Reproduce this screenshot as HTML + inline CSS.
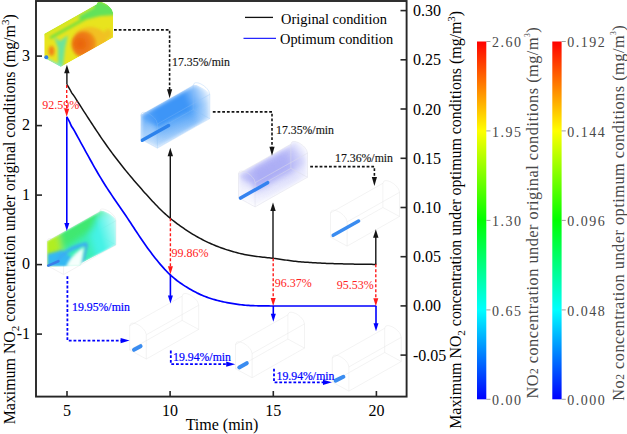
<!DOCTYPE html>
<html><head><meta charset="utf-8"><style>
html,body{margin:0;padding:0;background:#fff;width:627px;height:434px;overflow:hidden}
svg{display:block}
text{font-family:"Liberation Serif",serif}
</style></head><body>
<svg width="627" height="434" viewBox="0 0 627 434">
<defs><filter id="b1" x="-50%" y="-50%" width="200%" height="200%"><feGaussianBlur stdDeviation="1"/></filter><filter id="b15" x="-50%" y="-50%" width="200%" height="200%"><feGaussianBlur stdDeviation="1.5"/></filter><filter id="b2" x="-50%" y="-50%" width="200%" height="200%"><feGaussianBlur stdDeviation="2"/></filter><filter id="b3" x="-50%" y="-50%" width="200%" height="200%"><feGaussianBlur stdDeviation="3"/></filter><filter id="b12" x="-50%" y="-50%" width="200%" height="200%"><feGaussianBlur stdDeviation="1.2"/></filter><filter id="b05" x="-50%" y="-50%" width="200%" height="200%"><feGaussianBlur stdDeviation="0.6"/></filter><radialGradient id="og1" cx="0.35" cy="0.5" r="0.75"><stop offset="0" stop-color="#e8600e"/><stop offset="0.55" stop-color="#ee7c14"/><stop offset="1" stop-color="#f2a81a"/></radialGradient><linearGradient id="cbar" x1="0" y1="0" x2="0" y2="1"><stop offset="0" stop-color="#ff0000"/><stop offset="0.25" stop-color="#ffff00"/><stop offset="0.5" stop-color="#00ff00"/><stop offset="0.75" stop-color="#00ffff"/><stop offset="1" stop-color="#0000ff"/></linearGradient><clipPath id="c1"><polygon points="44.2,33.8 96.6,4.2 97.6,2.1 98.7,1.7 99.7,1.6 100.8,1.7 101.8,1.9 102.8,2.2 103.9,2.7 104.9,3.2 105.9,3.8 107.0,4.5 108.0,5.3 109.0,6.2 110.1,7.2 111.1,8.4 112.2,10.0 113.2,13.2 113.2,37.4 60.8,67.0 44.2,58.0"/></clipPath><mask id="m1"><polygon points="44.2,33.8 96.6,4.2 97.6,2.1 98.7,1.7 99.7,1.6 100.8,1.7 101.8,1.9 102.8,2.2 103.9,2.7 104.9,3.2 105.9,3.8 107.0,4.5 108.0,5.3 109.0,6.2 110.1,7.2 111.1,8.4 112.2,10.0 113.2,13.2 113.2,37.4 60.8,67.0 44.2,58.0" fill="#fff" filter="url(#b05)"/></mask><linearGradient id="mg2" gradientUnits="userSpaceOnUse" x1="140.8" y1="115.0" x2="209.8" y2="85.4"><stop offset="0.00" stop-color="#fff" stop-opacity="0.80"/><stop offset="0.20" stop-color="#fff" stop-opacity="1.00"/><stop offset="0.62" stop-color="#fff" stop-opacity="1.00"/><stop offset="0.80" stop-color="#fff" stop-opacity="0.55"/><stop offset="0.92" stop-color="#fff" stop-opacity="0.20"/><stop offset="1.00" stop-color="#fff" stop-opacity="0.03"/></linearGradient><clipPath id="cp2"><polygon points="140.8,115.0 193.2,85.4 194.2,84.8 195.3,84.9 196.3,85.1 197.4,85.5 198.4,85.9 199.4,86.4 200.5,86.9 201.5,87.4 202.5,88.0 203.6,88.6 204.6,89.3 205.7,90.0 206.7,90.8 207.7,91.6 208.8,92.6 209.8,94.4 209.8,118.6 157.4,148.2 140.8,139.2"/></clipPath><mask id="m2"><polygon points="140.8,115.0 193.2,85.4 194.2,84.8 195.3,84.9 196.3,85.1 197.4,85.5 198.4,85.9 199.4,86.4 200.5,86.9 201.5,87.4 202.5,88.0 203.6,88.6 204.6,89.3 205.7,90.0 206.7,90.8 207.7,91.6 208.8,92.6 209.8,94.4 209.8,118.6 157.4,148.2 140.8,139.2" fill="url(#mg2)" filter="url(#b2)"/></mask><linearGradient id="sg2" gradientUnits="userSpaceOnUse" x1="153.4" y1="120.0" x2="163.4" y2="151.2"><stop offset="0" stop-color="#3f98f7" stop-opacity="1.00"/><stop offset="1" stop-color="#3f98f7" stop-opacity="0.25"/></linearGradient><linearGradient id="mg3" gradientUnits="userSpaceOnUse" x1="238.5" y1="173.7" x2="307.5" y2="144.1"><stop offset="0.00" stop-color="#fff" stop-opacity="0.70"/><stop offset="0.25" stop-color="#fff" stop-opacity="1.00"/><stop offset="0.65" stop-color="#fff" stop-opacity="0.95"/><stop offset="0.85" stop-color="#fff" stop-opacity="0.50"/><stop offset="1.00" stop-color="#fff" stop-opacity="0.10"/></linearGradient><clipPath id="cp3"><polygon points="238.5,173.7 290.9,144.1 291.9,142.0 293.0,141.6 294.0,141.5 295.0,141.6 296.1,141.8 297.1,142.1 298.2,142.6 299.2,143.1 300.2,143.7 301.3,144.4 302.3,145.2 303.4,146.1 304.4,147.1 305.4,148.3 306.5,149.9 307.5,153.1 307.5,177.3 255.1,206.9 238.5,197.9"/></clipPath><mask id="m3"><polygon points="238.5,173.7 290.9,144.1 291.9,142.0 293.0,141.6 294.0,141.5 295.0,141.6 296.1,141.8 297.1,142.1 298.2,142.6 299.2,143.1 300.2,143.7 301.3,144.4 302.3,145.2 303.4,146.1 304.4,147.1 305.4,148.3 306.5,149.9 307.5,153.1 307.5,177.3 255.1,206.9 238.5,197.9" fill="url(#mg3)" filter="url(#b2)"/></mask><linearGradient id="sg3" gradientUnits="userSpaceOnUse" x1="251.1" y1="178.7" x2="261.1" y2="209.9"><stop offset="0" stop-color="#b6b8f7" stop-opacity="0.70"/><stop offset="1" stop-color="#b6b8f7" stop-opacity="0.00"/></linearGradient><clipPath id="c5"><polygon points="47.0,241.3 99.4,211.7 100.4,210.6 101.5,210.5 102.5,210.7 103.6,210.9 104.6,211.3 105.6,211.7 106.7,212.2 107.7,212.7 108.7,213.3 109.8,213.9 110.8,214.6 111.8,215.4 112.9,216.3 113.9,217.3 115.0,218.4 116.0,220.7 116.0,244.9 82.0,263.0 80.0,266.0 64.0,266.5 47.0,266.5"/></clipPath><linearGradient id="mg5" gradientUnits="userSpaceOnUse" x1="47" y1="250" x2="117" y2="230"><stop offset="0" stop-color="#fff"/><stop offset="0.75" stop-color="#fff"/><stop offset="1" stop-color="#fff" stop-opacity="0.4"/></linearGradient><mask id="m5"><polygon points="47.0,241.3 99.4,211.7 100.4,210.6 101.5,210.5 102.5,210.7 103.6,210.9 104.6,211.3 105.6,211.7 106.7,212.2 107.7,212.7 108.7,213.3 109.8,213.9 110.8,214.6 111.8,215.4 112.9,216.3 113.9,217.3 115.0,218.4 116.0,220.7 116.0,244.9 82.0,263.0 80.0,266.0 64.0,266.5 47.0,266.5" fill="url(#mg5)" filter="url(#b12)"/></mask></defs>
<path d="M330.5,212.9L331.5,210.8L332.6,210.3L333.6,210.2L334.6,210.3L335.7,210.5L336.7,210.9L337.8,211.3L338.8,211.8L339.8,212.4L340.9,213.1L341.9,213.9L343.0,214.8L344.0,215.8L345.0,217.1L346.1,218.6L347.1,221.9M347.1,221.9L347.1,246.1M347.1,246.1L330.5,237.1M330.5,237.1L330.5,212.9M382.9,183.3L383.9,181.2L385.0,180.7L386.0,180.6L387.0,180.7L388.1,180.9L389.1,181.3L390.2,181.7L391.2,182.2L392.2,182.8L393.3,183.5L394.3,184.3L395.4,185.2L396.4,186.2L397.4,187.5L398.5,189.0L399.5,192.3M399.5,192.3L399.5,216.5M399.5,216.5L382.9,207.5M382.9,207.5L382.9,183.3M330.5,212.9L382.9,183.3M347.1,221.9L399.5,192.3M347.1,246.1L399.5,216.5M330.5,237.1L382.9,207.5" stroke="#e4e4e4" stroke-width="0.45" fill="none"/>
<path d="M129.7,325.8L130.7,323.7L131.8,323.2L132.8,323.1L133.8,323.2L134.9,323.4L135.9,323.8L137.0,324.2L138.0,324.7L139.0,325.3L140.1,326.0L141.1,326.8L142.1,327.7L143.2,328.7L144.2,330.0L145.3,331.5L146.3,334.8M146.3,334.8L146.3,359.0M146.3,359.0L129.7,350.0M129.7,350.0L129.7,325.8M182.1,296.2L183.1,294.1L184.2,293.6L185.2,293.5L186.2,293.6L187.3,293.8L188.3,294.2L189.4,294.6L190.4,295.1L191.4,295.7L192.5,296.4L193.5,297.2L194.5,298.1L195.6,299.1L196.6,300.4L197.7,301.9L198.7,305.2M198.7,305.2L198.7,329.4M198.7,329.4L182.1,320.4M182.1,320.4L182.1,296.2M129.7,325.8L182.1,296.2M146.3,334.8L198.7,305.2M146.3,359.0L198.7,329.4M129.7,350.0L182.1,320.4" stroke="#e4e4e4" stroke-width="0.45" fill="none"/>
<path d="M235.5,344.5L236.5,342.4L237.6,341.9L238.6,341.8L239.7,341.9L240.7,342.1L241.7,342.5L242.8,342.9L243.8,343.4L244.8,344.0L245.9,344.7L246.9,345.5L247.9,346.4L249.0,347.4L250.0,348.7L251.1,350.2L252.1,353.5M252.1,353.5L252.1,377.7M252.1,377.7L235.5,368.7M235.5,368.7L235.5,344.5M287.9,314.9L288.9,312.8L290.0,312.3L291.0,312.2L292.0,312.3L293.1,312.5L294.1,312.9L295.2,313.3L296.2,313.8L297.2,314.4L298.3,315.1L299.3,315.9L300.4,316.8L301.4,317.8L302.4,319.1L303.5,320.6L304.5,323.9M304.5,323.9L304.5,348.1M304.5,348.1L287.9,339.1M287.9,339.1L287.9,314.9M235.5,344.5L287.9,314.9M252.1,353.5L304.5,323.9M252.1,377.7L304.5,348.1M235.5,368.7L287.9,339.1" stroke="#e4e4e4" stroke-width="0.45" fill="none"/>
<path d="M332.3,357.9L333.3,355.8L334.4,355.3L335.4,355.2L336.5,355.3L337.5,355.5L338.5,355.9L339.6,356.3L340.6,356.8L341.6,357.4L342.7,358.1L343.7,358.9L344.8,359.8L345.8,360.8L346.8,362.1L347.9,363.6L348.9,366.9M348.9,366.9L348.9,391.1M348.9,391.1L332.3,382.1M332.3,382.1L332.3,357.9M384.7,328.3L385.7,326.2L386.8,325.7L387.8,325.6L388.9,325.7L389.9,325.9L390.9,326.3L392.0,326.7L393.0,327.2L394.0,327.8L395.1,328.5L396.1,329.3L397.1,330.2L398.2,331.2L399.2,332.5L400.3,334.0L401.3,337.3M401.3,337.3L401.3,361.5M401.3,361.5L384.7,352.5M384.7,352.5L384.7,328.3M332.3,357.9L384.7,328.3M348.9,366.9L401.3,337.3M348.9,391.1L401.3,361.5M332.3,382.1L384.7,352.5" stroke="#e4e4e4" stroke-width="0.45" fill="none"/>
<path d="M47.0,241.3L48.0,239.2L49.1,238.7L50.1,238.6L51.1,238.7L52.2,238.9L53.2,239.3L54.3,239.7L55.3,240.2L56.3,240.8L57.4,241.5L58.4,242.3L59.5,243.2L60.5,244.2L61.5,245.5L62.6,247.0L63.6,250.3M63.6,250.3L63.6,274.5M63.6,274.5L47.0,265.5M47.0,265.5L47.0,241.3M99.4,211.7L100.4,209.6L101.5,209.1L102.5,209.0L103.6,209.1L104.6,209.3L105.6,209.7L106.7,210.1L107.7,210.6L108.7,211.2L109.8,211.9L110.8,212.7L111.8,213.6L112.9,214.6L113.9,215.9L115.0,217.4L116.0,220.7M116.0,220.7L116.0,244.9M116.0,244.9L99.4,235.9M99.4,235.9L99.4,211.7M47.0,241.3L99.4,211.7M63.6,250.3L116.0,220.7M63.6,274.5L116.0,244.9M47.0,265.5L99.4,235.9" stroke="#ececec" stroke-width="0.70" fill="none"/>
<g mask="url(#m1)"><g clip-path="url(#c1)">
<polygon points="44.2,33.8 96.6,4.2 97.6,2.1 98.7,1.7 99.7,1.6 100.8,1.7 101.8,1.9 102.8,2.2 103.9,2.7 104.9,3.2 105.9,3.8 107.0,4.5 108.0,5.3 109.0,6.2 110.1,7.2 111.1,8.4 112.2,10.0 113.2,13.2 113.2,37.4 60.8,67.0 44.2,58.0" fill="#e8e41e"/>
<g filter="url(#b15)">
<polygon points="88,5 100,1 116,8 115,15 100,16 84,20 78,18" fill="#62e25a"/>
<path d="M50,38 L86,18" stroke="#6ee040" stroke-width="2.6" fill="none"/>
<path d="M40,36 L94,6" stroke="#c4e828" stroke-width="3" fill="none"/>
<ellipse cx="90" cy="40" rx="17" ry="13" fill="#f2c020"/>
<path d="M82,31 Q92,30 96,40 Q98,50 89,56 Q80,58 76,55 Q70,48 72,40 Q75,33 82,31 Z" fill="url(#og1)"/>
<ellipse cx="108" cy="34" rx="4" ry="5" fill="#eec424"/>
<polygon points="54,37 60,41 68,35 65,48 63,66 58,66 58,48" fill="#6ee49a"/>
<ellipse cx="51.5" cy="51" rx="3" ry="5" fill="#f08418"/>
<path d="M44,59 L62,68" stroke="#80ecd8" stroke-width="4" fill="none"/>
</g></g></g>
<circle cx="46.3" cy="57.3" r="2.0" fill="#2f80e8"/>
<g mask="url(#m2)"><g clip-path="url(#cp2)">
<polygon points="140.8,115.0 193.2,85.4 194.2,84.8 195.3,84.9 196.3,85.1 197.4,85.5 198.4,85.9 199.4,86.4 200.5,86.9 201.5,87.4 202.5,88.0 203.6,88.6 204.6,89.3 205.7,90.0 206.7,90.8 207.7,91.6 208.8,92.6 209.8,94.4 209.8,118.6 157.4,148.2 140.8,139.2" fill="url(#sg2)"/>
<g filter="url(#b15)"><polygon points="138.8,114.0 195.2,81.4 211.8,96.8 157.4,126.4" fill="#3c95f7"/></g>
<g filter="url(#b2)"><polygon points="137.8,117.0 155.4,126.0 155.4,148.2 137.8,139.2" fill="#ffffff" opacity="0.20"/></g>
</g></g>
<path d="M140.8,115.0L141.8,112.9L142.9,112.4L143.9,112.3L145.0,112.4L146.0,112.6L147.0,113.0L148.1,113.4L149.1,113.9L150.1,114.5L151.2,115.2L152.2,116.0L153.2,116.9L154.3,117.9L155.3,119.2L156.4,120.7L157.4,124.0M157.4,124.0L157.4,148.2M157.4,148.2L140.8,139.2M140.8,139.2L140.8,115.0M193.2,85.4L194.2,83.3L195.3,82.8L196.3,82.7L197.4,82.8L198.4,83.0L199.4,83.4L200.5,83.8L201.5,84.3L202.5,84.9L203.6,85.6L204.6,86.4L205.7,87.3L206.7,88.3L207.7,89.6L208.8,91.1L209.8,94.4M209.8,94.4L209.8,118.6M209.8,118.6L193.2,109.6M193.2,109.6L193.2,85.4M140.8,115.0L193.2,85.4M157.4,124.0L209.8,94.4M157.4,148.2L209.8,118.6M140.8,139.2L193.2,109.6" stroke="#8ac0f6" stroke-width="0.30" fill="none"/>
<line x1="142.3" y1="140.3" x2="168.6" y2="125.6" stroke="#2c82ec" stroke-width="3.4" stroke-linecap="round"/>
<g mask="url(#m3)"><g clip-path="url(#cp3)">
<polygon points="238.5,173.7 290.9,144.1 291.9,142.0 293.0,141.6 294.0,141.5 295.0,141.6 296.1,141.8 297.1,142.1 298.2,142.6 299.2,143.1 300.2,143.7 301.3,144.4 302.3,145.2 303.4,146.1 304.4,147.1 305.4,148.3 306.5,149.9 307.5,153.1 307.5,177.3 255.1,206.9 238.5,197.9" fill="url(#sg3)"/>
<g filter="url(#b3)"><polygon points="236.5,178.7 292.9,146.1 309.5,161.1 255.1,190.7" fill="#aaacf5"/></g>
<g filter="url(#b2)"><polygon points="235.5,175.7 253.1,184.7 253.1,206.9 235.5,197.9" fill="#ffffff" opacity="0.45"/></g>
</g></g>
<path d="M238.5,173.7L239.5,171.6L240.6,171.1L241.6,171.0L242.7,171.1L243.7,171.3L244.7,171.7L245.8,172.1L246.8,172.6L247.8,173.2L248.9,173.9L249.9,174.7L250.9,175.6L252.0,176.6L253.0,177.9L254.1,179.4L255.1,182.7M255.1,182.7L255.1,206.9M255.1,206.9L238.5,197.9M238.5,197.9L238.5,173.7M290.9,144.1L291.9,142.0L293.0,141.5L294.0,141.4L295.0,141.5L296.1,141.7L297.1,142.1L298.2,142.5L299.2,143.0L300.2,143.6L301.3,144.3L302.3,145.1L303.4,146.0L304.4,147.0L305.4,148.3L306.5,149.8L307.5,153.1M307.5,153.1L307.5,177.3M307.5,177.3L290.9,168.3M290.9,168.3L290.9,144.1M238.5,173.7L290.9,144.1M255.1,182.7L307.5,153.1M255.1,206.9L307.5,177.3M238.5,197.9L290.9,168.3" stroke="#dcdce8" stroke-width="0.50" fill="none"/>
<line x1="240.6" y1="198.1" x2="267.6" y2="182.7" stroke="#3482f0" stroke-width="3.5" stroke-linecap="round"/>
<g mask="url(#m5)"><g clip-path="url(#c5)">
<polygon points="47.0,241.3 99.4,211.7 100.4,210.6 101.5,210.5 102.5,210.7 103.6,210.9 104.6,211.3 105.6,211.7 106.7,212.2 107.7,212.7 108.7,213.3 109.8,213.9 110.8,214.6 111.8,215.4 112.9,216.3 113.9,217.3 115.0,218.4 116.0,220.7 116.0,244.9 82.0,263.0 80.0,266.0 64.0,266.5 47.0,266.5" fill="#3ceeb8"/>
<g filter="url(#b3)">
<polygon points="40,236 58,228 64,246 56,272 40,272" fill="#b0ee24"/>
<polygon points="58,232 100,206 104,220 80,238 62,250" fill="#40e870"/>
<polygon points="98,216 124,212 124,256 96,258 90,236" fill="#44f2e6"/>
</g>
<g filter="url(#b15)"><polygon points="47,254 62,250 72,258 66,268 47,268" fill="#36b8f2"/>
<path d="M56,262 Q66,250 76,247 Q84,244 87,244" stroke="#3aacf4" stroke-width="3.5" fill="none"/>
<path d="M87,244 Q85,254 82,264" stroke="#4a9cf2" stroke-width="2" fill="none"/></g>
<path d="M66,267 Q70,256 84,247 L81,267 Z" fill="#ffffff" opacity="0.95" filter="url(#b15)"/>
<path d="M40,240 L99,207" stroke="#c8ea18" stroke-width="1.6" filter="url(#b05)"/>
</g></g>
<line x1="48.2" y1="265.6" x2="58.4" y2="261.2" stroke="#3a7ee8" stroke-width="2.6" stroke-linecap="round"/>
<line x1="333.2" y1="235.3" x2="358.6" y2="221.0" stroke="#3a8cf0" stroke-width="3.5" stroke-linecap="round"/>
<line x1="134.0" y1="349.8" x2="140.6" y2="346.2" stroke="#3a8cf0" stroke-width="4.0" stroke-linecap="round"/>
<line x1="239.2" y1="367.4" x2="246.8" y2="363.2" stroke="#3a8cf0" stroke-width="4.0" stroke-linecap="round"/>
<line x1="335.6" y1="380.6" x2="343.4" y2="376.8" stroke="#3a8cf0" stroke-width="4.0" stroke-linecap="round"/>
<rect x="36" y="1" width="370.6" height="395.6" fill="none" stroke="#262626" stroke-width="1.9"/>
<line x1="67.0" y1="391" x2="67.0" y2="396.5" stroke="#262626" stroke-width="1.6"/>
<text x="67.0" y="416" font-size="16" text-anchor="middle">5</text>
<line x1="170.1" y1="391" x2="170.1" y2="396.5" stroke="#262626" stroke-width="1.6"/>
<text x="170.1" y="416" font-size="16" text-anchor="middle">10</text>
<line x1="273.3" y1="391" x2="273.3" y2="396.5" stroke="#262626" stroke-width="1.6"/>
<text x="273.3" y="416" font-size="16" text-anchor="middle">15</text>
<line x1="376.4" y1="391" x2="376.4" y2="396.5" stroke="#262626" stroke-width="1.6"/>
<text x="376.4" y="416" font-size="16" text-anchor="middle">20</text>
<line x1="36" y1="56.1" x2="42" y2="56.1" stroke="#262626" stroke-width="1.6"/>
<text x="30" y="60.9" font-size="16" text-anchor="end">3</text>
<line x1="36" y1="125.6" x2="42" y2="125.6" stroke="#262626" stroke-width="1.6"/>
<text x="30" y="130.4" font-size="16" text-anchor="end">2</text>
<line x1="36" y1="195.1" x2="42" y2="195.1" stroke="#262626" stroke-width="1.6"/>
<text x="30" y="199.9" font-size="16" text-anchor="end">1</text>
<line x1="36" y1="264.6" x2="42" y2="264.6" stroke="#262626" stroke-width="1.6"/>
<text x="30" y="269.4" font-size="16" text-anchor="end">0</text>
<line x1="36" y1="334.1" x2="42" y2="334.1" stroke="#262626" stroke-width="1.6"/>
<text x="30" y="338.9" font-size="16" text-anchor="end">-1</text>
<line x1="400.5" y1="10.6" x2="406.5" y2="10.6" stroke="#262626" stroke-width="1.6"/>
<text x="413" y="16.1" font-size="16">0.30</text>
<line x1="400.5" y1="59.8" x2="406.5" y2="59.8" stroke="#262626" stroke-width="1.6"/>
<text x="413" y="65.3" font-size="16">0.25</text>
<line x1="400.5" y1="109.0" x2="406.5" y2="109.0" stroke="#262626" stroke-width="1.6"/>
<text x="413" y="114.5" font-size="16">0.20</text>
<line x1="400.5" y1="158.3" x2="406.5" y2="158.3" stroke="#262626" stroke-width="1.6"/>
<text x="413" y="163.8" font-size="16">0.15</text>
<line x1="400.5" y1="207.5" x2="406.5" y2="207.5" stroke="#262626" stroke-width="1.6"/>
<text x="413" y="213.0" font-size="16">0.10</text>
<line x1="400.5" y1="256.7" x2="406.5" y2="256.7" stroke="#262626" stroke-width="1.6"/>
<text x="413" y="262.2" font-size="16">0.05</text>
<line x1="400.5" y1="305.9" x2="406.5" y2="305.9" stroke="#262626" stroke-width="1.6"/>
<text x="413" y="311.4" font-size="16">0.00</text>
<line x1="400.5" y1="355.1" x2="406.5" y2="355.1" stroke="#262626" stroke-width="1.6"/>
<text x="413" y="360.6" font-size="16">-0.05</text>
<text x="222" y="430.2" font-size="16" text-anchor="middle">Time (min)</text>
<text transform="translate(14.6,219.3) rotate(-90)" font-size="15.9" text-anchor="middle">Maximum NO<tspan font-size="11" dy="4">2</tspan><tspan dy="-4"> concentration under original conditions (mg/m</tspan><tspan font-size="11" dy="-6">3</tspan><tspan dy="6">)</tspan></text>
<text transform="translate(460.5,219.8) rotate(-90)" font-size="15.9" text-anchor="middle">Maximum NO<tspan font-size="11" dy="4">2</tspan><tspan dy="-4"> concentration under optimum conditions (mg/m</tspan><tspan font-size="11" dy="-6">3</tspan><tspan dy="6">)</tspan></text>
<line x1="245" y1="17.4" x2="273" y2="17.4" stroke="#111" stroke-width="1.3"/>
<text x="281" y="24" font-size="14.4">Original condition</text>
<line x1="243.5" y1="38.4" x2="276" y2="38.4" stroke="#2626ff" stroke-width="1.3"/>
<text x="280" y="44" font-size="14.4">Optimum condition</text>
<path d="M66.90,84.50 L68.46,87.01 L70.01,89.52 L71.57,92.65 L73.12,94.67 L74.68,96.91 L76.23,99.37 L77.79,101.82 L79.34,104.26 L80.90,106.70 L82.45,109.12 L84.01,111.54 L85.56,113.95 L87.12,116.35 L88.67,118.75 L90.23,121.14 L91.78,123.52 L93.34,125.90 L94.89,128.26 L96.45,130.61 L98.01,132.94 L99.56,135.26 L101.12,137.55 L102.67,139.81 L104.23,142.05 L105.78,144.27 L107.34,146.45 L108.89,148.61 L110.45,150.75 L112.00,152.85 L113.56,154.94 L115.11,157.00 L116.67,159.03 L118.22,161.05 L119.78,163.05 L121.33,165.02 L122.89,166.98 L124.45,168.92 L126.00,170.85 L127.56,172.75 L129.11,174.63 L130.67,176.50 L132.22,178.35 L133.78,180.18 L135.33,181.99 L136.89,183.79 L138.44,185.58 L140.00,187.36 L141.55,189.12 L143.11,190.88 L144.66,192.63 L146.22,194.36 L147.77,196.09 L149.33,197.80 L150.88,199.50 L152.44,201.18 L154.00,202.85 L155.55,204.49 L157.11,206.10 L158.66,207.68 L160.22,209.23 L161.77,210.74 L163.33,212.21 L164.88,213.64 L166.44,215.03 L167.99,216.38 L169.55,217.69 L171.10,218.98 L172.66,220.22 L174.21,221.44 L175.77,222.63 L177.32,223.79 L178.88,224.93 L180.44,226.05 L181.99,227.15 L183.55,228.23 L185.10,229.29 L186.66,230.33 L188.21,231.35 L189.77,232.34 L191.32,233.32 L192.88,234.27 L194.43,235.20 L195.99,236.11 L197.54,237.00 L199.10,237.87 L200.65,238.71 L202.21,239.53 L203.76,240.32 L205.32,241.10 L206.87,241.85 L208.43,242.58 L209.99,243.29 L211.54,243.98 L213.10,244.65 L214.65,245.30 L216.21,245.94 L217.76,246.55 L219.32,247.15 L220.87,247.72 L222.43,248.28 L223.98,248.82 L225.54,249.34 L227.09,249.85 L228.65,250.34 L230.20,250.81 L231.76,251.27 L233.31,251.72 L234.87,252.15 L236.43,252.57 L237.98,252.97 L239.54,253.36 L241.09,253.73 L242.65,254.08 L244.20,254.42 L245.76,254.73 L247.31,255.03 L248.87,255.31 L250.42,255.56 L251.98,255.80 L253.53,256.03 L255.09,256.24 L256.64,256.43 L258.20,256.62 L259.75,256.80 L261.31,256.97 L262.86,257.13 L264.42,257.30 L265.98,257.47 L267.53,257.64 L269.09,257.81 L270.64,257.99 L272.20,258.18 L273.75,258.37 L275.31,258.57 L276.86,258.78 L278.42,258.99 L279.97,259.22 L281.53,259.44 L283.08,259.67 L284.64,259.89 L286.19,260.12 L287.75,260.34 L289.30,260.55 L290.86,260.76 L292.42,260.96 L293.97,261.14 L295.53,261.32 L297.08,261.48 L298.64,261.64 L300.19,261.78 L301.75,261.91 L303.30,262.04 L304.86,262.16 L306.41,262.27 L307.97,262.37 L309.52,262.48 L311.08,262.57 L312.63,262.67 L314.19,262.76 L315.74,262.85 L317.30,262.94 L318.85,263.02 L320.41,263.10 L321.97,263.17 L323.52,263.25 L325.08,263.31 L326.63,263.38 L328.19,263.44 L329.74,263.50 L331.30,263.55 L332.85,263.60 L334.41,263.65 L335.96,263.70 L337.52,263.74 L339.07,263.78 L340.63,263.83 L342.18,263.86 L343.74,263.90 L345.29,263.94 L346.85,263.98 L348.41,264.01 L349.96,264.05 L351.52,264.08 L353.07,264.12 L354.63,264.15 L356.18,264.18 L357.74,264.21 L359.29,264.23 L360.85,264.26 L362.40,264.28 L363.96,264.30 L365.51,264.32 L367.07,264.34 L368.62,264.35 L370.18,264.36 L371.73,264.37 L373.29,264.38 L374.84,264.39 L376.40,264.39" fill="none" stroke="#141414" stroke-width="1.5"/>
<path d="M66.80,116.80 L68.36,119.70 L69.91,122.58 L71.47,126.22 L73.02,128.56 L74.58,131.16 L76.13,134.01 L77.69,136.86 L79.24,139.70 L80.80,142.54 L82.35,145.38 L83.91,148.21 L85.46,151.04 L87.02,153.86 L88.57,156.68 L90.13,159.49 L91.68,162.28 L93.24,165.05 L94.79,167.80 L96.35,170.52 L97.91,173.20 L99.46,175.83 L101.02,178.43 L102.57,180.97 L104.13,183.47 L105.68,185.93 L107.24,188.34 L108.79,190.72 L110.35,193.06 L111.90,195.37 L113.46,197.66 L115.01,199.94 L116.57,202.20 L118.12,204.46 L119.68,206.72 L121.23,208.98 L122.79,211.25 L124.35,213.54 L125.90,215.83 L127.46,218.15 L129.01,220.48 L130.57,222.82 L132.12,225.18 L133.68,227.54 L135.23,229.91 L136.79,232.27 L138.34,234.62 L139.90,236.95 L141.45,239.26 L143.01,241.53 L144.56,243.77 L146.12,245.97 L147.67,248.14 L149.23,250.27 L150.78,252.36 L152.34,254.41 L153.90,256.42 L155.45,258.40 L157.01,260.33 L158.56,262.23 L160.12,264.08 L161.67,265.89 L163.23,267.64 L164.78,269.34 L166.34,270.97 L167.89,272.55 L169.45,274.06 L171.00,275.51 L172.56,276.90 L174.11,278.22 L175.67,279.49 L177.22,280.70 L178.78,281.86 L180.34,282.98 L181.89,284.06 L183.45,285.10 L185.00,286.11 L186.56,287.08 L188.11,288.03 L189.67,288.94 L191.22,289.83 L192.78,290.70 L194.33,291.54 L195.89,292.35 L197.44,293.14 L199.00,293.89 L200.55,294.61 L202.11,295.29 L203.66,295.94 L205.22,296.56 L206.77,297.14 L208.33,297.70 L209.89,298.23 L211.44,298.73 L213.00,299.20 L214.55,299.65 L216.11,300.08 L217.66,300.49 L219.22,300.89 L220.77,301.26 L222.33,301.62 L223.88,301.96 L225.44,302.28 L226.99,302.59 L228.55,302.88 L230.10,303.16 L231.66,303.43 L233.21,303.68 L234.77,303.92 L236.33,304.15 L237.88,304.37 L239.44,304.57 L240.99,304.76 L242.55,304.93 L244.10,305.09 L245.66,305.23 L247.21,305.35 L248.77,305.45 L250.32,305.54 L251.88,305.61 L253.43,305.67 L254.99,305.73 L256.54,305.77 L258.10,305.81 L259.65,305.84 L261.21,305.87 L262.76,305.89 L264.32,305.92 L265.88,305.94 L267.43,305.95 L268.99,305.97 L270.54,305.98 L272.10,305.99 L273.65,305.99 L275.21,306.00 L276.76,306.00 L278.32,306.00 L279.87,306.00 L281.43,306.00 L282.98,306.00 L284.54,306.00 L286.09,306.00 L287.65,306.00 L289.20,306.00 L290.76,306.00 L292.32,306.00 L293.87,306.00 L295.43,306.00 L296.98,306.00 L298.54,306.00 L300.09,306.00 L301.65,306.00 L303.20,306.00 L304.76,306.00 L306.31,306.00 L307.87,306.00 L309.42,306.00 L310.98,306.00 L312.53,306.00 L314.09,306.00 L315.64,306.00 L317.20,306.00 L318.75,306.00 L320.31,306.00 L321.87,306.00 L323.42,306.00 L324.98,306.00 L326.53,306.00 L328.09,306.00 L329.64,306.00 L331.20,306.00 L332.75,306.00 L334.31,306.00 L335.86,306.00 L337.42,306.00 L338.97,306.00 L340.53,306.00 L342.08,306.00 L343.64,306.00 L345.19,306.00 L346.75,306.00 L348.31,306.00 L349.86,306.00 L351.42,306.00 L352.97,306.00 L354.53,306.00 L356.08,306.00 L357.64,306.00 L359.19,306.00 L360.75,306.00 L362.30,306.00 L363.86,306.00 L365.41,306.00 L366.97,306.00 L368.52,306.00 L370.08,306.00 L371.63,306.00 L373.19,306.00 L374.74,306.00 L376.30,306.00" fill="none" stroke="#0000ff" stroke-width="1.7"/>
<line x1="66.9" y1="84.5" x2="66.9" y2="70.8" stroke="#141414" stroke-width="1.4"/>
<polygon points="66.9,64.8 64.2,73.3 69.6,73.3" fill="#141414"/>
<line x1="170.3" y1="218.3" x2="170.3" y2="153.8" stroke="#141414" stroke-width="1.4"/>
<polygon points="170.3,147.8 167.6,156.3 173.0,156.3" fill="#141414"/>
<line x1="273.0" y1="258.2" x2="273.0" y2="208.5" stroke="#141414" stroke-width="1.4"/>
<polygon points="273.0,202.5 270.3,211.0 275.7,211.0" fill="#141414"/>
<line x1="375.8" y1="264.2" x2="375.8" y2="235.3" stroke="#141414" stroke-width="1.4"/>
<polygon points="375.8,229.3 373.1,237.8 378.5,237.8" fill="#141414"/>
<line x1="66.7" y1="85.0" x2="66.7" y2="110.8" stroke="#ff1a1a" stroke-width="1.4" stroke-dasharray="3,2"/>
<polygon points="66.7,116.8 64.2,108.8 69.2,108.8" fill="#ff1a1a"/>
<line x1="170.4" y1="218.3" x2="170.4" y2="268.3" stroke="#ff1a1a" stroke-width="1.4" stroke-dasharray="3,2"/>
<polygon points="170.4,274.3 167.9,266.3 172.9,266.3" fill="#ff1a1a"/>
<line x1="273.2" y1="258.2" x2="273.2" y2="299.9" stroke="#ff1a1a" stroke-width="1.4" stroke-dasharray="3,2"/>
<polygon points="273.2,305.9 270.7,297.9 275.7,297.9" fill="#ff1a1a"/>
<line x1="375.8" y1="264.2" x2="375.8" y2="300.2" stroke="#ff1a1a" stroke-width="1.4" stroke-dasharray="3,2"/>
<polygon points="375.8,306.2 373.3,298.2 378.3,298.2" fill="#ff1a1a"/>
<line x1="66.8" y1="116.8" x2="66.8" y2="225.0" stroke="#0000ff" stroke-width="1.6"/>
<polygon points="66.8,231.0 64.3,223.0 69.3,223.0" fill="#0000ff"/>
<line x1="170.4" y1="274.3" x2="170.4" y2="297.6" stroke="#0000ff" stroke-width="1.6"/>
<polygon points="170.4,303.6 167.9,295.6 172.9,295.6" fill="#0000ff"/>
<line x1="273.3" y1="305.9" x2="273.3" y2="315.8" stroke="#0000ff" stroke-width="1.6"/>
<polygon points="273.3,321.8 270.8,313.8 275.8,313.8" fill="#0000ff"/>
<line x1="376.0" y1="305.9" x2="376.0" y2="325.2" stroke="#0000ff" stroke-width="1.6"/>
<polygon points="376.0,331.2 373.5,323.2 378.5,323.2" fill="#0000ff"/>
<path d="M114.0,29.9 H169.6 V91.2" fill="none" stroke="#141414" stroke-width="1.6" stroke-dasharray="2.8,1.9"/>
<polygon points="169.6,98.2 167.0,89.2 172.2,89.2" fill="#141414"/>
<path d="M212.8,111.9 H272.0 V148.8" fill="none" stroke="#141414" stroke-width="1.6" stroke-dasharray="2.8,1.9"/>
<polygon points="272.0,155.8 269.4,146.8 274.6,146.8" fill="#141414"/>
<path d="M310.2,166.6 H374.4 V179.0" fill="none" stroke="#141414" stroke-width="1.6" stroke-dasharray="2.8,1.9"/>
<polygon points="374.4,186.0 371.8,177.0 377.0,177.0" fill="#141414"/>
<path d="M67.4,276.2 V340.6 H122.6" fill="none" stroke="#0000ff" stroke-width="1.8" stroke-dasharray="2.8,1.9"/>
<polygon points="129.6,340.6 120.6,338.0 120.6,343.2" fill="#0000ff"/>
<path d="M170.8,350.6 V364.2 H228.2" fill="none" stroke="#0000ff" stroke-width="1.8" stroke-dasharray="2.8,1.9"/>
<polygon points="235.2,364.2 226.2,361.6 226.2,366.8" fill="#0000ff"/>
<path d="M274.0,368.8 V382.3 H325.0" fill="none" stroke="#0000ff" stroke-width="1.8" stroke-dasharray="2.8,1.9"/>
<polygon points="332.0,382.3 323.0,379.7 323.0,384.9" fill="#0000ff"/>
<text x="42.2" y="108.7" font-size="12" fill="#ff2222">92.59%</text>
<text x="171.5" y="256.8" font-size="12" fill="#ff2222">99.86%</text>
<text x="274.8" y="287.3" font-size="12" fill="#ff2222">96.37%</text>
<text x="336.8" y="288.8" font-size="12" fill="#ff2222">95.53%</text>
<text x="172.0" y="65.6" font-size="11.8" fill="#141414" stroke="#141414" stroke-width="0.15">17.35%/min</text>
<text x="276.0" y="133.9" font-size="11.8" fill="#141414" stroke="#141414" stroke-width="0.15">17.35%/min</text>
<text x="335.0" y="162.3" font-size="11.8" fill="#141414" stroke="#141414" stroke-width="0.15">17.36%/min</text>
<text x="72.0" y="310.5" font-size="11.8" fill="#0000ff" stroke="#0000ff" stroke-width="0.2">19.95%/min</text>
<text x="173.0" y="360.7" font-size="11.8" fill="#0000ff" stroke="#0000ff" stroke-width="0.2">19.94%/min</text>
<text x="276.5" y="379.5" font-size="11.8" fill="#0000ff" stroke="#0000ff" stroke-width="0.2">19.94%/min</text>
<rect x="477.0" y="41.5" width="9.3" height="357.8" fill="url(#cbar)"/>
<line x1="486.3" y1="41.5" x2="490.5" y2="41.5" stroke="#888" stroke-width="0.8"/>
<text x="492.0" y="47.1" font-size="14" fill="#484848" letter-spacing="1.5">2.60</text>
<line x1="486.3" y1="130.9" x2="490.5" y2="130.9" stroke="#888" stroke-width="0.8"/>
<text x="492.0" y="136.5" font-size="14" fill="#484848" letter-spacing="1.5">1.95</text>
<line x1="486.3" y1="220.4" x2="490.5" y2="220.4" stroke="#888" stroke-width="0.8"/>
<text x="492.0" y="226.0" font-size="14" fill="#484848" letter-spacing="1.5">1.30</text>
<line x1="486.3" y1="309.9" x2="490.5" y2="309.9" stroke="#888" stroke-width="0.8"/>
<text x="492.0" y="315.5" font-size="14" fill="#484848" letter-spacing="1.5">0.65</text>
<line x1="486.3" y1="399.3" x2="490.5" y2="399.3" stroke="#888" stroke-width="0.8"/>
<text x="492.0" y="404.9" font-size="14" fill="#484848" letter-spacing="1.5">0.00</text>
<text transform="translate(538.3,212.7) rotate(-90)" font-size="16.3" fill="#484848" letter-spacing="0.5" text-anchor="middle">NO<tspan font-size="11.5">2</tspan><tspan> concentration under original conditions (mg/m</tspan><tspan font-size="7.5" dy="-8">3</tspan><tspan dy="8">)</tspan></text>
<rect x="552.3" y="41.5" width="9.3" height="357.8" fill="url(#cbar)"/>
<line x1="561.6" y1="41.5" x2="565.8" y2="41.5" stroke="#888" stroke-width="0.8"/>
<text x="567.3" y="47.1" font-size="14" fill="#484848" letter-spacing="1.5">0.192</text>
<line x1="561.6" y1="130.9" x2="565.8" y2="130.9" stroke="#888" stroke-width="0.8"/>
<text x="567.3" y="136.5" font-size="14" fill="#484848" letter-spacing="1.5">0.144</text>
<line x1="561.6" y1="220.4" x2="565.8" y2="220.4" stroke="#888" stroke-width="0.8"/>
<text x="567.3" y="226.0" font-size="14" fill="#484848" letter-spacing="1.5">0.096</text>
<line x1="561.6" y1="309.9" x2="565.8" y2="309.9" stroke="#888" stroke-width="0.8"/>
<text x="567.3" y="315.5" font-size="14" fill="#484848" letter-spacing="1.5">0.048</text>
<line x1="561.6" y1="399.3" x2="565.8" y2="399.3" stroke="#888" stroke-width="0.8"/>
<text x="567.3" y="404.9" font-size="14" fill="#484848" letter-spacing="1.5">0.000</text>
<text transform="translate(624.2,212.7) rotate(-90)" font-size="16.3" fill="#484848" letter-spacing="0.5" text-anchor="middle">No<tspan font-size="11.5">2</tspan><tspan> concentration under optimum conditions (mg/m</tspan><tspan font-size="7.5" dy="-8">3</tspan><tspan dy="8">)</tspan></text>
</svg></body></html>
